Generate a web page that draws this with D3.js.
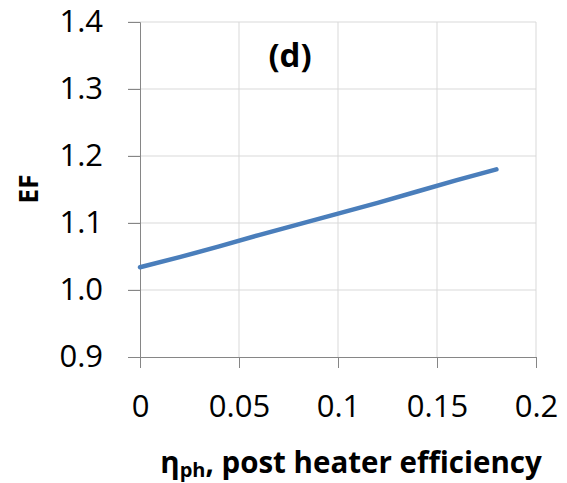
<!DOCTYPE html>
<html>
<head>
<meta charset="utf-8">
<script src="https://cdn.jsdelivr.net/npm/d3@7"></script>
<style>
  body { margin: 0; background: #fff; }
  text { font-family: "Open Sans", "Liberation Sans", sans-serif; fill: #000; }
</style>
</head>
<body>
<svg id="chart"></svg>
<script>
// post heater efficiency vs EF
const effValues = [0, 0.02, 0.04, 0.06, 0.08, 0.10, 0.12, 0.14, 0.16, 0.18];
const efValues = [1.034, 1.049, 1.065, 1.082, 1.098, 1.114, 1.130, 1.147, 1.164, 1.180];
const xTicks = [0, 0.05, 0.1, 0.15, 0.2];
const yTicks = [0.9, 1.0, 1.1, 1.2, 1.3, 1.4];

const width = 567, height = 483;
const margin = { top: 22, right: 31, bottom: 126, left: 140 };

const svg = d3.select('#chart')
  .attr('width', width)
  .attr('height', height);

const x = d3.scaleLinear().domain([0, 0.2])
  .range([margin.left, width - margin.right]);
const y = d3.scaleLinear().domain([0.9, 1.4])
  .range([height - margin.bottom, margin.top]);

/** gridlines */
svg.append('g')
  .selectAll('line.h')
  .data(yTicks.slice(1))
  .join('line')
  .attr('x1', x(0) - 12).attr('x2', x(0.2))
  .attr('y1', d => y(d)).attr('y2', d => y(d))
  .attr('stroke', '#d9d9d9').attr('stroke-width', 1);

svg.append('g')
  .selectAll('line.v')
  .data(xTicks.slice(1))
  .join('line')
  .attr('x1', d => x(d)).attr('x2', d => x(d))
  .attr('y1', y(1.4)).attr('y2', y(0.9))
  .attr('stroke', '#d9d9d9').attr('stroke-width', 1);

/** axes */
const yAxis = d3.axisLeft(y).tickValues(yTicks).tickSize(12).tickPadding(25)
  .tickFormat(d3.format('.1f'));
svg.append('g')
  .attr('transform', `translate(${x(0)},0)`)
  .call(yAxis)
  .call(g => g.select('.domain').attr('stroke', '#868686'))
  .call(g => g.selectAll('.tick line').attr('stroke', '#868686'))
  .call(g => g.selectAll('.tick text').attr('font-size', 31)
    .attr('font-family', '"Open Sans", sans-serif').attr('fill', '#000'));

const xAxis = d3.axisBottom(x).tickValues(xTicks).tickSize(11).tickPadding(27)
  .tickFormat(d => d === 0 ? '0' : String(d));
svg.append('g')
  .attr('transform', `translate(0,${y(0.9)})`)
  .call(xAxis)
  .call(g => g.select('.domain').attr('stroke', '#868686'))
  .call(g => g.selectAll('.tick line').attr('stroke', '#868686'))
  .call(g => g.selectAll('.tick text').attr('font-size', 31)
    .attr('font-family', '"Open Sans", sans-serif').attr('fill', '#000'));

/** data line */
const line = d3.line()
  .x((d, i) => x(effValues[i]))
  .y(d => y(d));
svg.append('path')
  .datum(efValues)
  .attr('d', line)
  .attr('fill', 'none')
  .attr('stroke', '#4a7ebb')
  .attr('stroke-width', 4.5)
  .attr('stroke-linecap', 'round');

/** title */
svg.append('text')
  .attr('x', 290).attr('y', 67)
  .attr('text-anchor', 'middle')
  .attr('font-size', 33).attr('font-weight', 'bold')
  .text('(d)');

/** y label */
svg.append('text')
  .attr('transform', 'translate(38,189) rotate(-90)')
  .attr('text-anchor', 'middle')
  .attr('font-size', 26).attr('font-weight', 'bold')
  .text('EF');

/** x label */
const xl = svg.append('text')
  .attr('x', 351).attr('y', 473)
  .attr('text-anchor', 'middle')
  .attr('font-size', 29.5).attr('font-weight', 'bold');
xl.append('tspan').text('η');
xl.append('tspan').attr('font-size', 20).attr('dy', 4).text('ph');
xl.append('tspan').attr('dy', -4).text(', post heater efficiency');
</script>
</body>
</html>
